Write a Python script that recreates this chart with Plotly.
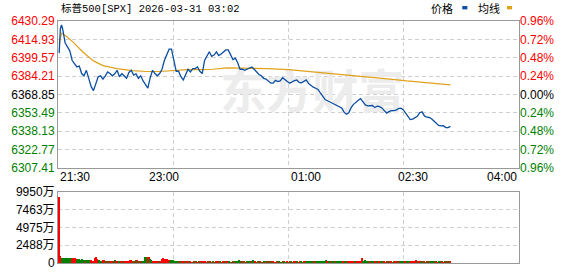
import plotly.graph_objects as go

# ---------------- data ----------------
title_text = "标普500[SPX] 2026-03-31 03:02"
pre_close = 6368.85
price_ticks = [6307.41, 6322.77, 6338.13, 6353.49, 6368.85, 6384.21, 6399.57, 6414.93, 6430.29]
pct_labels = ["0.96%", "0.72%", "0.48%", "0.24%", "0.00%", "0.24%", "0.48%", "0.72%", "0.96%"]
vol_ticks = [0, 2487.5, 4975, 7462.5, 9950]
vol_labels = ["0", "2488万", "4975万", "7463万", "9950万"]
time_labels = ["21:30", "23:00", "01:00", "02:30", "04:00"]
time_label_min = [0, 90, 210, 300, 390]
grid_min = [97.5, 195, 292.5]

# minutes after 21:30 and price
price_min = [1, 2, 3, 4, 6, 8, 10, 12, 14, 16, 18, 20, 22, 24, 26, 28, 30, 32, 34, 36, 38, 40,
             42, 44, 46, 48, 50, 52, 54, 56, 58, 60, 62, 64, 66, 68, 70, 72, 74, 76, 78, 80,
             82, 84, 86, 88, 90, 92, 94, 96, 98, 100, 102, 104, 106, 108, 110, 112, 114, 116, 118, 120,
             122, 124, 126, 128, 130, 132, 134, 136, 138, 140, 142, 144, 146, 148, 150, 152, 154, 156, 158, 160,
             162, 164, 166, 168, 170, 172, 174, 176, 178, 180, 182, 184, 186, 188, 190, 192, 194, 196, 198, 200,
             202, 204, 206, 208, 210, 212, 214, 216, 218, 220, 222, 224, 226, 228, 230, 232, 234, 236, 238, 240,
             242, 244, 246, 248, 250, 252, 254, 256, 258, 260, 262, 264, 266, 268, 270, 272, 274, 276, 278, 280,
             282, 284, 286, 288, 290, 292, 294, 296, 298, 300, 302, 304, 306, 308, 310, 312, 314, 316, 318, 320,
             322, 324, 326, 328, 330, 332]
price_val = [6403.4, 6424.0, 6427.0, 6423.5, 6412.1, 6408.6, 6405.3, 6397.2, 6393.9, 6391.8, 6392.6, 6386.3, 6384.4, 6389.0, 6382.3, 6375.5, 6372.0, 6377.4, 6383.6, 6384.4, 6381.7, 6384.4,
             6387.7, 6386.3, 6384.4, 6386.1, 6389.0, 6383.6, 6386.1, 6384.4, 6382.3, 6387.2, 6389.0, 6385.0, 6386.1, 6382.3, 6384.4, 6380.1, 6377.4, 6374.1, 6382.8, 6389.0,
             6386.3, 6384.4, 6386.3, 6389.9, 6397.2, 6401.3, 6406.7, 6406.7, 6397.2, 6388.2, 6388.2, 6383.6, 6380.9, 6385.5, 6389.9, 6387.7, 6390.4, 6390.4, 6391.8, 6388.2,
             6386.3, 6397.2, 6400.7, 6404.5, 6400.7, 6401.8, 6404.5, 6401.3, 6402.6, 6404.0, 6406.1, 6406.1, 6401.8, 6398.0, 6399.1, 6395.3, 6389.9, 6389.9, 6389.0, 6389.9,
             6391.0, 6391.8, 6389.9, 6387.2, 6385.5, 6384.4, 6382.3, 6381.7, 6379.6, 6378.2, 6378.2, 6380.6, 6379.6, 6380.1, 6382.8, 6380.9, 6379.6, 6378.2, 6379.6, 6380.4,
             6380.9, 6378.8, 6378.5, 6379.6, 6380.9, 6377.9, 6376.0, 6374.9, 6374.0, 6373.0, 6370.0, 6367.0, 6364.5, 6363.5, 6362.5, 6361.5, 6360.5, 6359.5, 6358.5, 6357.5,
             6354.0, 6352.2, 6353.5, 6357.8, 6360.5, 6362.5, 6364.0, 6365.2, 6362.5, 6360.0, 6359.2, 6359.5, 6359.5, 6357.9, 6359.0, 6358.5, 6357.5, 6355.2, 6353.2, 6354.4,
             6355.2, 6355.2, 6355.7, 6357.0, 6357.3, 6356.0, 6353.5, 6350.3, 6347.8, 6348.2, 6349.5, 6350.5, 6353.5, 6354.2, 6350.8, 6349.7, 6349.5, 6348.4, 6346.5, 6344.5,
             6342.8, 6342.5, 6342.6, 6341.0, 6341.0, 6342.1]

avg_min = [1, 3, 7, 13, 21, 30, 38, 50, 63, 75, 86, 97, 109, 120, 131, 143, 154, 165, 177, 195,
           211, 224, 239, 253, 266, 281, 295, 309, 323, 332]
avg_val = [6411.0, 6420.0, 6417.5, 6412.4, 6404.3, 6396.9, 6392.9, 6390.4, 6388.8, 6388.0, 6388.0, 6388.8,
           6389.6, 6389.6, 6389.9, 6391.0, 6391.0, 6391.0, 6390.4, 6389.6, 6388.2, 6387.2, 6385.5, 6384.5,
           6383.1, 6381.7, 6380.1, 6379.0, 6378.0, 6376.8]

# per-minute volume (万), minutes 1..332
vol = [9300, 980, 750, 700, 650, 720, 680, 700, 640, 620, 700, 600, 650, 720, 520, 480, 520, 600, 450, 560,
       420, 380, 300, 420, 380, 450, 400, 350, 330, 310, 660, 900, 600, 480, 350, 330, 300, 480, 380, 300,
       280, 320, 260, 300, 250, 240, 300, 350, 260, 220, 280, 240, 200, 260, 300, 220, 200, 270, 230, 250,
       450, 420, 300, 250, 220, 360, 380, 340, 300, 280, 250, 220, 300, 850, 880, 800, 880, 520, 480, 300,
       280, 260, 270, 280, 250, 200, 220, 620, 650, 600, 500, 520, 480, 420, 260, 380, 350, 320, 280, 270,
       260, 250, 180, 160, 200, 150, 140, 220, 180, 160, 150, 200, 130, 120, 170, 180, 140, 130, 220, 160,
       140, 120, 250, 150, 130, 110, 180, 160, 140, 120, 150, 110, 130, 140, 140, 160, 150, 130, 120, 140,
       140, 150, 280, 260, 140, 130, 120, 160, 140, 130, 150, 200, 450, 300, 160, 140, 150, 130, 120, 140,
       130, 150, 140, 160, 360, 200, 150, 130, 140, 120, 150, 130, 110, 140, 130, 150, 120, 160, 140, 130,
       150, 140, 120, 130, 150, 140, 160, 130, 120, 140, 150, 130, 120, 140, 130, 150, 140, 120, 130, 150,
       140, 160, 130, 120, 150, 140, 130, 150, 140, 130, 160, 140, 150, 130, 140, 160, 150, 140, 130, 180,
       200, 220, 160, 150, 170, 300, 400, 180, 150, 140, 130, 150, 140, 160, 150, 140, 130, 160, 150, 140,
       180, 250, 200, 150, 220, 300, 180, 150, 160, 140, 150, 130, 160, 150, 200, 250, 680, 300, 180, 400,
       200, 160, 150, 140, 130, 150, 140, 160, 150, 140, 130, 150, 160, 200, 180, 140, 130, 150, 140, 160,
       150, 140, 130, 150, 140, 160, 150, 140, 200, 170, 150, 140, 130, 250, 160, 150, 140, 130, 150, 140,
       160, 200, 360, 200, 150, 140, 130, 150, 160, 140, 130, 150, 220, 300, 150, 200, 260, 300, 150, 140,
       130, 140, 150, 160, 140, 130, 150, 140, 130, 150, 280, 140]
vol_dir = ("uuddd ddddd duuuu ddddd"
           "ddudd dduuu uuuud dduud"
           "ududu udduu uduuu duuuu"
           "uuudu dudud udddd uuddu"
           "uuuuu duuuu uuuud ddddd"
           "dduud uuduu duudu ududu"
           "uduuu dudud duduu ududu"
           "duuud ududu ddddu dudud"
           "ududd duudd ududu ddudd"
           "uudud ududd uddud ududu"
           "udduu dduud ddddd duddd"
           "ddddd ddudd duddu ddddd"
           "uuddu uuuuu duuuu uuddd"
           "ddudu dduud uuddd uuduu"
           "duudu ududd dddud dduuu"
           "uuudu udddu dduud dddud"
           "uddud uduud du").replace(" ", "")
vol_min = list(range(1, len(vol) + 1))

# ---------------- styling ----------------
RED = "#ff0000"
GREEN = "#008000"
BLUE = "#0b4ea2"
GOLD = "#e0a11b"
GRID = "#cfcfcf"
FRAME = "#999999"
NUMFONT = "Liberation Sans, Arial, sans-serif"
CJK = "Noto Sans CJK SC, sans-serif"

def colored(lbl, i, n):
    mid = n // 2
    c = RED if i > mid else (GREEN if i < mid else "#000000")
    return f'<span style="color:{c}">{lbl}</span>'

left_text = [colored(f"{v:.2f}", i, len(price_ticks)) for i, v in enumerate(price_ticks)]
right_text = [colored(l, i, len(pct_labels)) for i, l in enumerate(pct_labels)]

fig = go.Figure()

# watermark (drawn first so it sits under the lines)
fig.add_trace(go.Scatter(x=[215], y=[6367], mode="text", text=["<b>东方财富</b>"],
                         textfont=dict(family=CJK, size=46, color="#ececec"),
                         hoverinfo="skip", showlegend=False, xaxis="x", yaxis="y"))

fig.add_trace(go.Scatter(x=avg_min, y=avg_val, mode="lines", line=dict(color=GOLD, width=1.2),
                         showlegend=False, xaxis="x", yaxis="y"))
fig.add_trace(go.Scatter(x=price_min, y=price_val, mode="lines", line=dict(color=BLUE, width=1.3),
                         showlegend=False, xaxis="x", yaxis="y"))
fig.add_trace(go.Scatter(x=[price_min[0]], y=[price_val[0]], mode="markers", marker=dict(opacity=0),
                         showlegend=False, xaxis="x", yaxis="y3", hoverinfo="skip"))

fig.add_trace(go.Bar(x=vol_min, y=vol, width=0.9,
                     marker=dict(color=[RED if d == "u" else GREEN for d in vol_dir], line=dict(width=0)),
                     showlegend=False, xaxis="x2", yaxis="y2"))

axis_common = dict(showline=True, linecolor=FRAME, linewidth=1, mirror=True, zeroline=False,
                   ticks="", fixedrange=True)

fig.update_layout(
    width=578, height=276,
    margin=dict(l=58, r=59, t=21, b=6),
    paper_bgcolor="white", plot_bgcolor="white",
    font=dict(family=NUMFONT, size=12, color="#000000"),
    bargap=0,
    xaxis=dict(domain=[0, 1], range=[0, 390], anchor="y", tickvals=grid_min, showticklabels=False,
               showgrid=True, gridcolor=GRID, griddash="4px,3px", gridwidth=1, **axis_common),
    yaxis=dict(domain=[0.3936, 1], range=[price_ticks[0], price_ticks[-1]], anchor="x",
               tickvals=price_ticks, ticktext=left_text, showgrid=True, gridcolor=GRID,
               griddash="4px,3px", gridwidth=1, tickfont=dict(size=12, family=NUMFONT), **axis_common),
    yaxis3=dict(overlaying="y", side="right", anchor="x", range=[price_ticks[0], price_ticks[-1]],
                tickvals=price_ticks, ticktext=right_text, showgrid=False, zeroline=False, ticks="",
                showline=False, tickfont=dict(size=12, family=NUMFONT)),
    xaxis2=dict(domain=[0, 1], range=[0, 390], anchor="y2", tickvals=grid_min, showticklabels=False,
                showgrid=True, gridcolor=GRID, griddash="4px,3px", gridwidth=1, **axis_common),
    yaxis2=dict(domain=[0, 0.2932], range=[0, 9950], anchor="x2", tickvals=vol_ticks, ticktext=vol_labels,
                showgrid=True, gridcolor=GRID, griddash="4px,3px", gridwidth=1,
                tickfont=dict(size=12, family=NUMFONT + ", " + CJK), **axis_common),
)

# time labels under the price panel
for lbl, m in zip(time_labels, time_label_min):
    anchor = "left" if m == time_label_min[0] else ("right" if m == time_label_min[-1] else "center")
    fig.add_annotation(x=m, xref="x", y=0.3534, yref="paper", text=lbl, showarrow=False,
                       xanchor=anchor, yanchor="middle", font=dict(family=NUMFONT, size=12, color="#000"))

# title
fig.add_annotation(x=0.003, xref="paper", y=1.052, yref="paper", text=title_text, showarrow=False,
                   xanchor="left", yanchor="middle",
                   font=dict(family="Liberation Mono, " + CJK, size=10.5, color="#000"))

# legend: 价格 ■  均线 ■
fig.add_annotation(x=0.834, xref="paper", y=1.052, yref="paper", text="价格", showarrow=False,
                   xanchor="center", yanchor="middle", font=dict(family=CJK, size=11, color="#000"))
fig.add_annotation(x=0.934, xref="paper", y=1.052, yref="paper", text="均线", showarrow=False,
                   xanchor="center", yanchor="middle", font=dict(family=CJK, size=11, color="#000"))
fig.add_shape(type="rect", xref="paper", yref="paper", x0=0.877, x1=0.888, y0=1.048, y1=1.062,
              fillcolor=BLUE, line=dict(width=0))
fig.add_shape(type="rect", xref="paper", yref="paper", x0=0.974, x1=0.985, y0=1.048, y1=1.062,
              fillcolor=GOLD, line=dict(width=0))

fig.write_html("out.html")
